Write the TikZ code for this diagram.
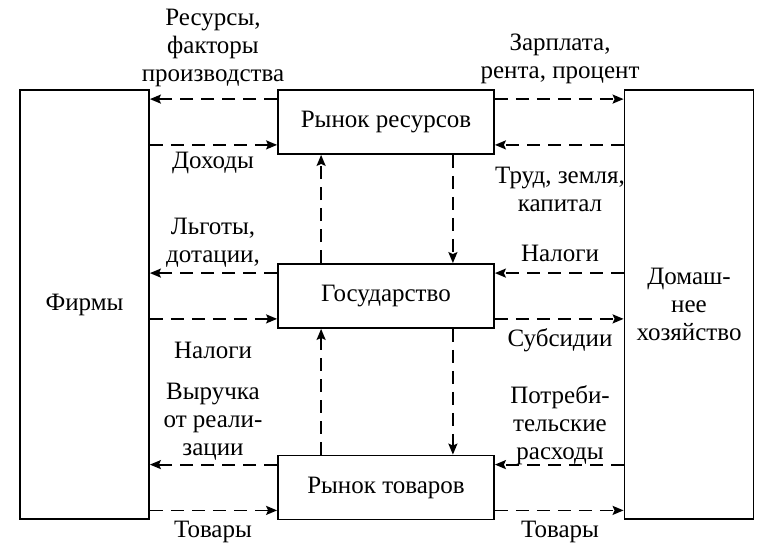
\documentclass[tikz,border=0pt]{standalone}
\usepackage{fontspec}
\setmainfont{Liberation Serif}
\usetikzlibrary{arrows.meta,calc,positioning}
\tikzset{
	every node/.style={
		font=\fontsize{25}{28}\selectfont
	},
	rynok/.style={
		shape=rectangle,
		minimum width=216pt,
		minimum height=64pt,
		text centered,
		draw
	},
	agent/.style={
		shape=rectangle,
		minimum width=129pt,
		minimum height=429pt,
		align=center,
		draw
	},
	podpis/.style={
		align=center,
		inner sep=0pt
	},
	potok/.style={
		->,
		dash pattern=on 13pt off 8pt
	}
}

\begin{document}
\begin{tikzpicture}[x=1pt,y=-1pt,>={Stealth[length=11pt,width=9pt,inset=2pt]},line width=1.8pt]
	\useasboundingbox (0,0) rectangle (774,548);
	
	\node[agent]  (F) at (84.5,304.5)  {Фирмы};
	\node[agent]  (H) at (689,304.5)   {Домаш-\\нее\\хозяйство};
	\node[rynok]  (R) at (386,122)     {Рынок ресурсов};
	\node[rynok]  (G) at (386,296)     {Государство};
	\node[rynok]  (T) at (386,487.5)   {Рынок товаров};
	
	% rynok resursov
	\draw[potok] ([yshift=-10pt]R.north west) -- ([yshift=-10pt]R.north west -| F.east);
	\draw[potok] ([yshift=10pt]R.south west -| F.east) -- ([yshift=10pt]R.south west);
	\draw[potok] ([yshift=-10pt]R.north east) -- ([yshift=-10pt]R.north east -| H.west);
	\draw[potok] ([yshift=10pt]R.south east -| H.west) -- ([yshift=10pt]R.south east);
	
	% gosudarstvo
	\draw[potok] ([yshift=-10pt]G.north west) -- ([yshift=-10pt]G.north west -| F.east);
	\draw[potok] ([yshift=10pt]G.south west -| F.east) -- ([yshift=10pt]G.south west);
	\draw[potok] ([yshift=-10pt]G.north east -| H.west) -- ([yshift=-10pt]G.north east);
	\draw[potok] ([yshift=10pt]G.south east) -- ([yshift=10pt]G.south east -| H.west);
	
	% rynok tovarov
	\draw[potok] ([yshift=-10pt]T.north west) -- ([yshift=-10pt]T.north west -| F.east);
	\draw[potok] ([yshift=10pt]T.south west -| F.east) -- ([yshift=10pt]T.south west);
	\draw[potok] ([yshift=-10pt]T.north east -| H.west) -- ([yshift=-10pt]T.north east);
	\draw[potok] ([yshift=10pt]T.south east) -- ([yshift=10pt]T.south east -| H.west);
	
	% vertikalnye potoki
	\draw[potok] ([xshift=44pt]G.north west) -- ([xshift=44pt]G.north west |- R.south);
	\draw[potok] ([xshift=44pt]T.north west) -- ([xshift=44pt]T.north west |- G.south);
	\draw[potok] ([xshift=-42pt]R.south east) -- ([xshift=-42pt]R.south east |- G.north);
	\draw[potok] ([xshift=-42pt]G.south east) -- ([xshift=-42pt]G.south east |- T.north);
	
	% podpisi
	\node[podpis] (resursy)  at (213,48)  {Ресурсы,\\факторы\\производства};
	\node[podpis] (dohody)   at (213,163) {Доходы};
	\node[podpis] (lgoty)    at (213,243) {Льготы,\\дотации,};
	\node[podpis] (nalogiF)  at (213,350) {Налоги};
	\node[podpis] (vyruchka) at (213,422) {Выручка\\от реали-\\зации};
	\node[podpis] (tovaryF)  at (213,532) {Товары};
	\node[podpis] (zarplata) at (560,59)  {Зарплата,\\рента, процент};
	\node[podpis] (trud)     at (560,189) {Труд, земля,\\капитал};
	\node[podpis] (nalogiH)  at (560,253) {Налоги};
	\node[podpis] (subsidii) at (560,340) {Субсидии};
	\node[podpis] (rashody)  at (560,425) {Потреби-\\тельские\\расходы};
	\node[podpis] (tovaryH)  at (560,532) {Товары};
\end{tikzpicture}
\end{document}
